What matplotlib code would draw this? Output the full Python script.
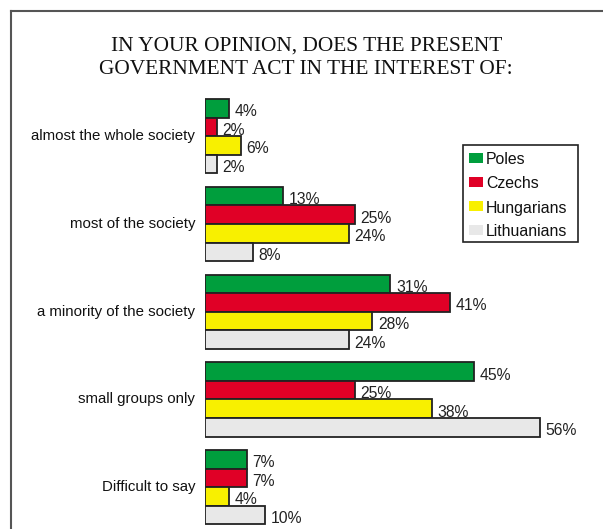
import matplotlib.pyplot as plt
from matplotlib.patches import Rectangle

categories = [
    "almost the whole society",
    "most of the society",
    "a minority of the society",
    "small groups only",
    "Difficult to say",
]
series_names = ["Poles", "Czechs", "Hungarians", "Lithuanians"]
poles = [4, 13, 31, 45, 7]
czechs = [2, 25, 41, 25, 7]
hungarians = [6, 24, 28, 38, 4]
lithuanians = [2, 8, 24, 56, 10]

colors = ["#009e3d", "#e00026", "#f8f000", "#e8e8e8"]

W, H = 603, 529
fig = plt.figure(figsize=(W / 100, H / 100), dpi=100)

# outer frame (open on the right and bottom)
frame = fig.add_axes([0, 0, 1, 1])
frame.set_xlim(0, W)
frame.set_ylim(H, 0)
frame.axis("off")
frame.plot([11, 11], [H, 11], color="#555555", lw=1.5)
frame.plot([11, W], [11, 11], color="#555555", lw=1.5)

frame.text(307, 51, "IN YOUR OPINION, DOES THE PRESENT",
           ha="center", va="baseline", family="Liberation Serif", fontsize=15.4,
           color="#111111")
frame.text(306, 74.5, "GOVERNMENT ACT IN THE INTEREST OF:",
           ha="center", va="baseline", family="Liberation Serif", fontsize=15.4,
           color="#111111")

# bar axes: y measured in pixels from the top, x in percent
x0 = 205
px_per_pct = 5.98
ax = fig.add_axes([x0 / W, 0, (W - x0) / W, 1])
ax.set_xlim(0, (W - x0) / px_per_pct)
ax.set_ylim(H, 0)
ax.axis("off")

group_top = 99
group_step = 87.75
bar_h = 18.6

all_series = [poles, czechs, hungarians, lithuanians]
for i, cat in enumerate(categories):
    top = group_top + i * group_step
    for j, vals in enumerate(all_series):
        yc = top + (j + 0.5) * bar_h
        ax.barh(yc, vals[i], height=bar_h, color=colors[j], edgecolor="#222222",
                linewidth=1.3)
        ax.annotate(f"{vals[i]}%", (vals[i], yc), xytext=(4, -2.5),
                    textcoords="offset points", ha="left", va="center",
                    family="Liberation Sans", fontsize=11.3, color="#222222")
    frame.text(195, top + 2 * bar_h, cat, ha="right", va="center",
               family="Liberation Sans", fontsize=10.8, color="#111111")

# legend
frame.add_patch(Rectangle((463, 145), 115, 97, facecolor="white",
                          edgecolor="#222222", lw=1.2))
for j, name in enumerate(series_names):
    ly = 160 + j * 24
    frame.add_patch(Rectangle((469, ly - 7), 14, 10, facecolor=colors[j],
                              edgecolor="none"))
    frame.text(486, ly, name, ha="left", va="center",
               family="Liberation Sans", fontsize=11.4, color="#111111")

fig.savefig("out.png", dpi=100)
